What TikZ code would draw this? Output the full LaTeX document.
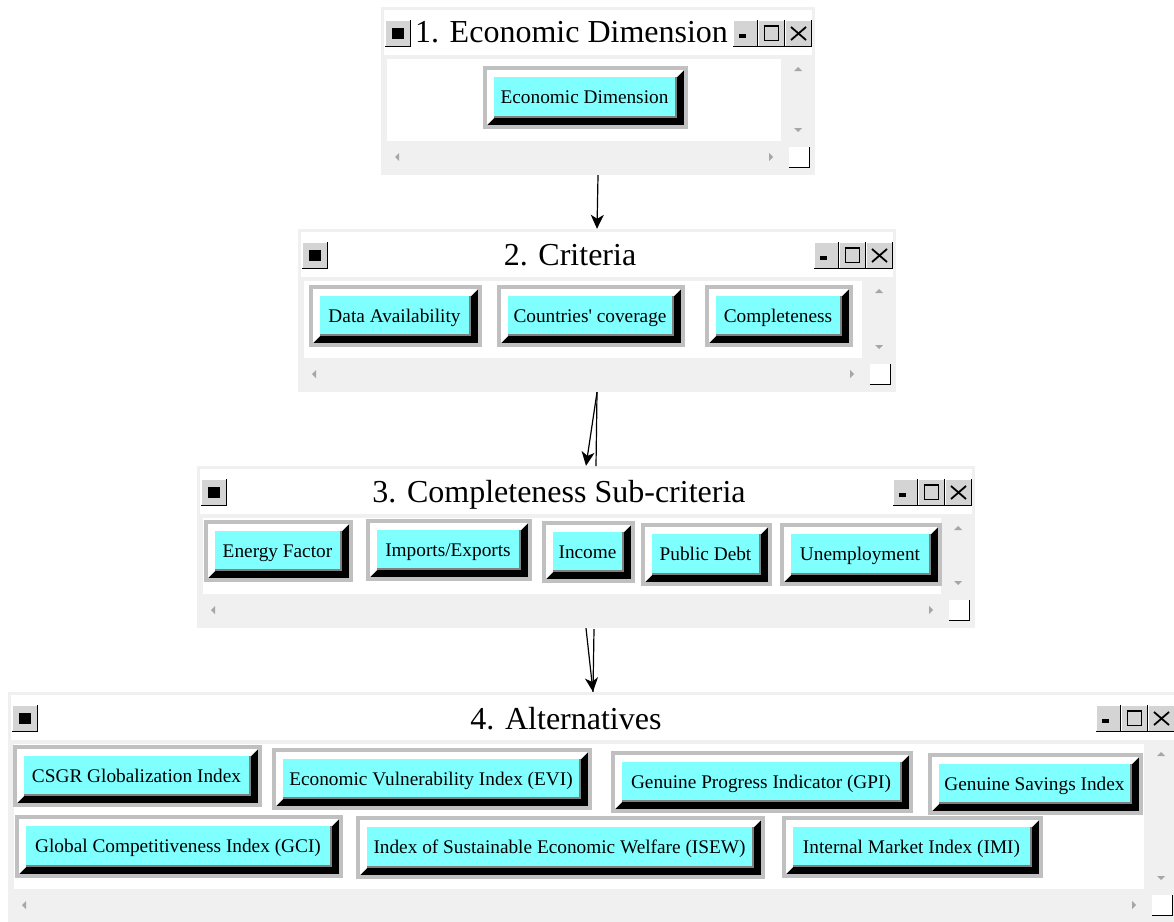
\documentclass[tikz,border=0pt]{standalone}
\usepackage{fontspec}
\setmainfont{Liberation Serif}
\usetikzlibrary{arrows.meta}
\definecolor{btncyan}{HTML}{80FFFF}
\definecolor{btngray}{HTML}{C0C0C0}
\definecolor{btnline}{HTML}{808080}
\definecolor{winframe}{HTML}{F0F0F0}
\definecolor{arrowgray}{HTML}{A6A6A6}
\definecolor{tbgray}{HTML}{D4D4D4}

\tikzset{
 btnnode/.style={fill=btncyan, inner sep=0pt, text height=14pt, text depth=0pt, font=\fontsize{19.3}{22}\selectfont},
 titletext/.style={inner sep=0pt, anchor=base, font=\fontsize{32}{36}\selectfont},
 winnode/.style={fill=winframe, inner sep=0pt, draw=none},
 link/.style={line width=1.2pt, black},
 linkhead/.style={link, -{Stealth[length=14pt,width=13pt,inset=4pt]}},
 scrarrow/.style={fill=arrowgray},
}

% title-bar button: x1 y1 x2 y2
\newcommand\tbtn[4]{%
 \fill[tbgray] ({#1},{#2}) rectangle ({#3},{#4});
 \draw[white, line width=1pt] ({#1+0.5},{#4-1}) -- ({#1+0.5},{#2+0.5}) -- ({#3-1},{#2+0.5});
 \draw[black, line width=1.5pt] ({#1},{#4-0.75}) -- ({#3-0.75},{#4-0.75}) -- ({#3-0.75},{#2});
}

% window: name x1 y1 x2 y2 title cx baseline
\newcommand\mkwin[8]{%
 \node[winnode, minimum width={(#4-#2)*1pt}, minimum height={(#5-#3)*1pt}] (#1) at ({(#2+#4)/2},{(#3+#5)/2}) {};
 \fill[white] ({#2+3},{#3+3}) rectangle ({#4-3},{#3+48});
 \fill[white] ({#2+6},{#3+52}) rectangle ({#4-34},{#5-34});
 \node[titletext] (#1title) at (#7,#8) {#6};
 \tbtn{#2+4}{#3+13}{#2+30}{#3+40}
 \fill[black] ({#2+11},{#3+21}) rectangle ({#2+23},{#3+32});
 \tbtn{#4-82}{#3+13}{#4-57}{#3+40}
 \fill[black] ({#4-76},{#3+27}) rectangle ({#4-69},{#3+31});
 \tbtn{#4-57}{#3+13}{#4-30}{#3+40}
 \draw[black, line width=1pt] ({#4-51},{#3+19}) rectangle ({#4-37},{#3+33});
 \draw[black, line width=2pt] ({#4-51.5},{#3+19}) -- ({#4-36.5},{#3+19});
 \tbtn{#4-30}{#3+13}{#4-3}{#3+40}
 \draw[black, line width=1.8pt] ({#4-24},{#3+20}) -- ({#4-9},{#3+33}) ({#4-24},{#3+33}) -- ({#4-9},{#3+20});
 \fill[scrarrow] ({#4-21},{#3+64}) -- ({#4-13},{#3+64}) -- ({#4-17},{#3+60}) -- cycle;
 \fill[scrarrow] ({#4-21},{#5-47}) -- ({#4-13},{#5-47}) -- ({#4-17},{#5-43}) -- cycle;
 \fill[scrarrow] ({#2+18},{#5-22}) -- ({#2+18},{#5-14}) -- ({#2+14},{#5-18}) -- cycle;
 \fill[scrarrow] ({#4-46},{#5-22}) -- ({#4-46},{#5-14}) -- ({#4-42},{#5-18}) -- cycle;
 \fill[white] ({#4-26},{#5-28}) rectangle ({#4-5},{#5-7});
 \draw[black, line width=1.5pt] ({#4-26},{#5-7.75}) -- ({#4-5.75},{#5-7.75}) -- ({#4-5.75},{#5-28});
}

% button: name x1 y1 x2 y2 text  (outer rectangle)
\newcommand\btn[6]{%
 \fill[btngray] (#2,#3) rectangle (#4,#5);
 \fill[black] ({#2+4},{#3+4}) rectangle ({#4-4},{#5-4});
 \fill[white] ({#2+4},{#5-4}) -- ({#2+4},{#3+4}) -- ({#4-4},{#3+4}) -- ({#4-11},{#3+11}) -- ({#2+11},{#3+11}) -- ({#2+11},{#5-11}) -- cycle;
 \fill[btnline] ({#2+11},{#3+11}) rectangle ({#4-11},{#5-11});
 \node[btnnode, minimum width={(#4-#2-24)*1pt}, minimum height={(#5-#3-24)*1pt}] (#1) at ({(#2+#4)/2-1},{(#3+#5)/2-1}) {#6};
}

\begin{document}
\begin{tikzpicture}[x=1pt, y=-1pt]
\useasboundingbox (0,0) rectangle (1174,921);
\clip (0,0) rectangle (1174,921);
\fill[white] (0,0) rectangle (1174,921);

% window 1
\mkwin{w1}{381}{7}{815}{175}{1. Economic Dimension}{571.5}{42}
\btn{econ}{483}{66}{688}{129}{Economic Dimension}

% window 2
\mkwin{w2}{298}{229}{896}{392}{2. Criteria}{570}{265}
\btn{data}{309}{285}{482}{347}{Data Availability}
\btn{countries}{497}{285}{685}{347}{Countries\textquotesingle\ coverage}
\btn{complete}{705}{285}{853}{347}{Completeness}

% window 3
\mkwin{w3}{197}{466}{975}{628}{3. Completeness Sub-criteria}{559}{502}
\btn{energy}{204}{520}{353}{582}{Energy Factor}
\btn{imports}{366}{519}{532}{581}{Imports/Exports}
\btn{income}{542}{521}{635}{583}{Income}
\btn{debt}{641}{523}{772}{586}{Public Debt}
\btn{unemp}{780}{523}{942}{586}{Unemployment}

% window 4
\mkwin{w4}{8}{692}{1178}{923}{4. Alternatives}{566}{729}
\btn{csgr}{13}{745}{262}{807}{CSGR Globalization Index}
\btn{evi}{272}{748}{592}{810}{Economic Vulnerability Index (EVI)}
\btn{gpi}{611}{751}{913}{813}{Genuine Progress Indicator (GPI)}
\btn{gsi}{928}{753}{1143}{815}{Genuine Savings Index}
\btn{gci}{15}{815}{343}{878}{Global Competitiveness Index (GCI)}
\btn{isew}{356}{816}{765}{879}{Index of Sustainable Economic Welfare (ISEW)}
\btn{imi}{782}{816}{1043}{878}{Internal Market Index (IMI)}

% connectors
\coordinate (l2b) at (596,466);
\coordinate (l3b) at (594,629);
\draw[linkhead] (w1.south) -- (w2.north);
\draw[link] (w2.south) -- (l2b);
\draw[linkhead] (w2.south) -- (w3.north);
\draw[link] (l3b) -- (w4.north);
\draw[linkhead] (w3.south) -- (w4.north);
\end{tikzpicture}
\end{document}
